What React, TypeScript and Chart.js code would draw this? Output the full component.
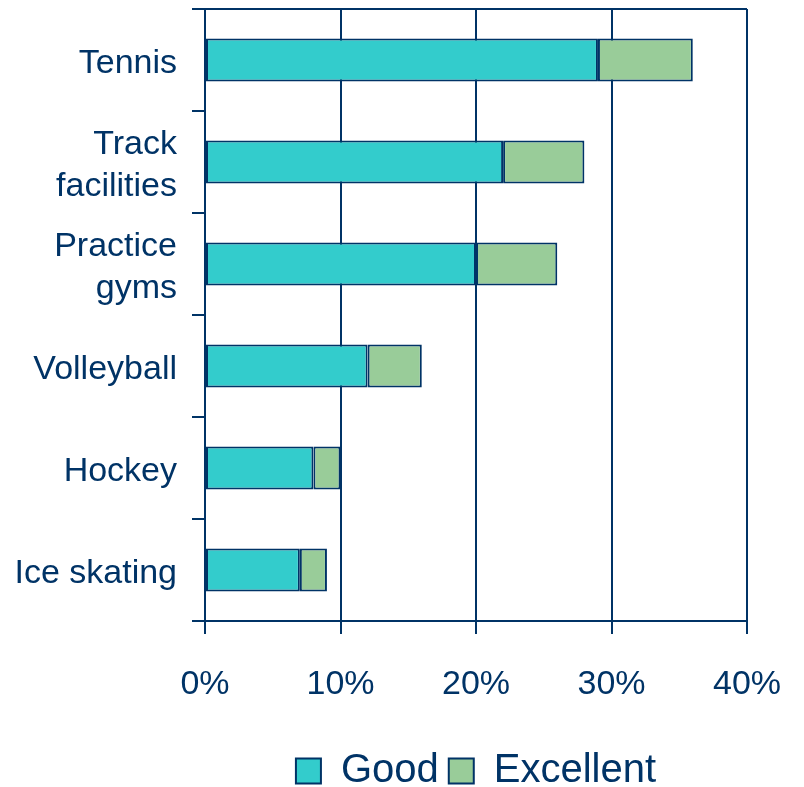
import React, { useEffect, useRef } from "react";
import { Chart, registerables } from "chart.js";

Chart.register(...registerables);

const categories: (string | string[])[] = [
  "Tennis",
  ["Track", "facilities"],
  ["Practice", "gyms"],
  "Volleyball",
  "Hockey",
  "Ice skating",
];
const goodValues = [29, 22, 20, 12, 8, 7];
const excellentValues = [7, 6, 6, 4, 2, 2];
const xTicks = [0, 10, 20, 30, 40];

const NAVY = "#003366";
const FONT = "'Liberation Sans', Arial, sans-serif";

const topBorder = {
  id: "topBorder",
  afterDraw(chart: any) {
    const { ctx, chartArea } = chart;
    ctx.save();
    ctx.strokeStyle = NAVY;
    ctx.lineWidth = 2;
    ctx.beginPath();
    ctx.moveTo(chartArea.left, chartArea.top);
    ctx.lineTo(chartArea.right, chartArea.top);
    ctx.stroke();
    ctx.restore();
  },
};

export default function App() {
  const ref = useRef<HTMLCanvasElement | null>(null);

  useEffect(() => {
    document.body.style.margin = "0";
    if (!ref.current) return;
    const chart = new Chart(ref.current, {
      type: "bar",
      data: {
        labels: categories,
        datasets: [
          {
            label: "Good",
            data: goodValues,
            backgroundColor: "#33CCCC",
            borderColor: NAVY,
            borderWidth: 2,
            borderSkipped: false,
            barPercentage: 0.42,
            categoryPercentage: 1,
          },
          {
            label: "Excellent",
            data: excellentValues,
            backgroundColor: "#99CC99",
            borderColor: NAVY,
            borderWidth: 2,
            borderSkipped: false,
            barPercentage: 0.42,
            categoryPercentage: 1,
          },
        ],
      },
      options: {
        indexAxis: "y",
        animation: false,
        responsive: false,
        layout: { padding: { top: 9, left: 0, right: 57, bottom: -14 } },
        plugins: {
          tooltip: { enabled: false },
          legend: {
            position: "bottom",
            fullSize: false,
            labels: {
              color: NAVY,
              font: { family: FONT, size: 40, lineHeight: 1 },
              boxWidth: 25,
              boxHeight: 25,
              padding: 10,
            },
          },
        },
        scales: {
          x: {
            stacked: true,
            min: 0,
            max: 40,
            afterBuildTicks: (scale: any) => {
              scale.ticks = xTicks.map((v) => ({ value: v }));
            },
            afterFit: (scale: any) => {
              scale.height = 120;
              scale.paddingLeft = 0;
              scale.paddingRight = 0;
            },
            ticks: {
              color: NAVY,
              font: { family: FONT, size: 34 },
              padding: 30,
              callback: (v: any) => v + "%",
            },
            grid: {
              color: NAVY,
              lineWidth: 2,
              tickLength: 13,
              drawOnChartArea: true,
            },
            border: { display: true, color: NAVY, width: 2 },
          },
          y: {
            stacked: true,
            afterFit: (scale: any) => {
              scale.width = 205;
              scale.paddingTop = 0;
              scale.paddingBottom = 0;
            },
            ticks: {
              color: NAVY,
              font: { family: FONT, size: 34, lineHeight: 1.24 },
              padding: 15,
              labelOffset: 4,
            },
            grid: {
              offset: true,
              color: NAVY,
              lineWidth: 2,
              tickLength: 13,
              drawOnChartArea: false,
            },
            border: { display: true, color: NAVY, width: 2 },
          },
        },
      },
      plugins: [topBorder],
    });
    return () => chart.destroy();
  }, []);

  return (
    <div style={{ width: 804, height: 787 }}>
      <canvas ref={ref} width={804} height={787} style={{ width: 804, height: 787 }} />
    </div>
  );
}
